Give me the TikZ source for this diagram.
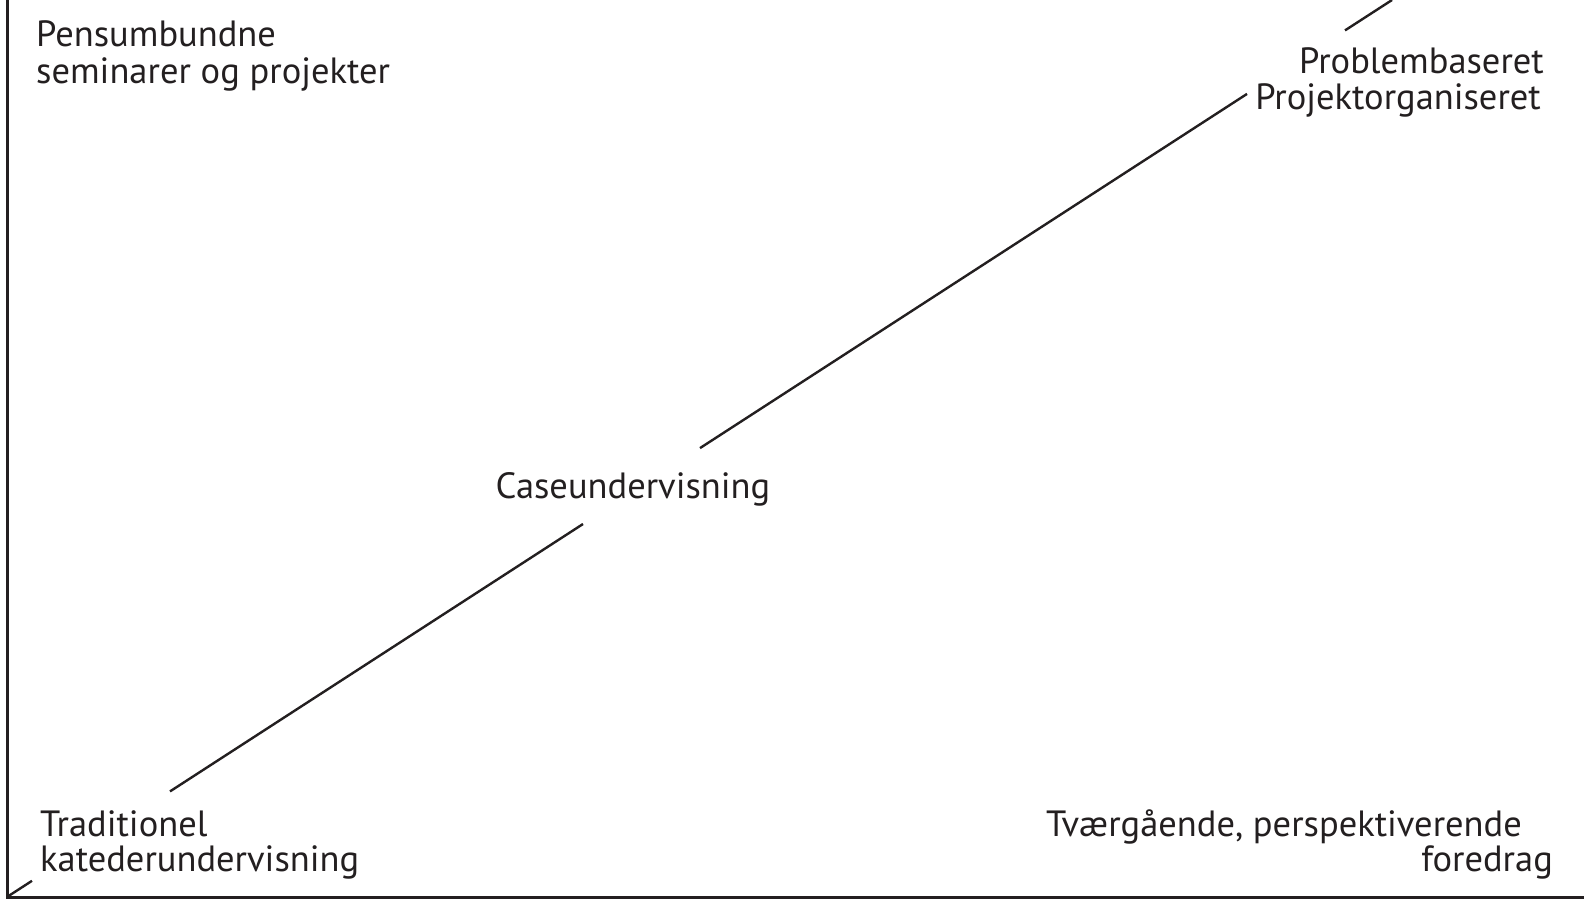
\documentclass[tikz,border=0pt]{standalone}
\usepackage{fontspec}
\setmainfont{PT Sans}
\definecolor{ink}{RGB}{35,31,32}
\begin{document}
\begin{tikzpicture}[x=1pt,y=-1pt,
  lbl/.style={inner sep=0pt,font=\fontsize{36.5}{40}\selectfont,text=ink},
  axis/.style={line width=3pt,ink},
  diag/.style={line width=2.4pt,ink}]
\useasboundingbox (0,0) rectangle (1584,905);
% axes
\coordinate (top) at (7,0);
\coordinate (O) at (7,897);
\coordinate (right) at (1584,897);
\draw[axis] (top) -- (O) -- (right);
% diagonal segments
\coordinate (d1) at (32,880.8);
\coordinate (d2) at (170,791.4);
\coordinate (d3) at (583,524);
\coordinate (d4) at (700,448.1);
\coordinate (d5) at (1247,93.9);
\coordinate (d6) at (1345,30.4);
\coordinate (d7) at (1392,0);
\draw[diag] (O) -- (d1);
\draw[diag] (d2) -- (d3);
\draw[diag] (d4) -- (d5);
\draw[diag] (d6) -- (d7);
% labels
\node[lbl,anchor=base west] (pen1) at (36,46.5) {Pensumbundne};
\node[lbl,anchor=base west] (pen2) at (36,83) {seminarer og projekter};
\node[lbl,anchor=base east] (pro1) at (1544,73) {Problembaseret};
\node[lbl,anchor=base east] (pro2) at (1541,109) {Projektorganiseret};
\node[lbl,anchor=base] (case) at (633,498) {Caseundervisning};
\node[lbl,anchor=base west] (tra1) at (40,836) {Traditionel};
\node[lbl,anchor=base west] (tra2) at (40,871) {katederundervisning};
\node[lbl,anchor=base east] (tvr1) at (1522,836) {Tværgående, perspektiverende};
\node[lbl,anchor=base east] (tvr2) at (1553,871) {foredrag};
\end{tikzpicture}
\end{document}
